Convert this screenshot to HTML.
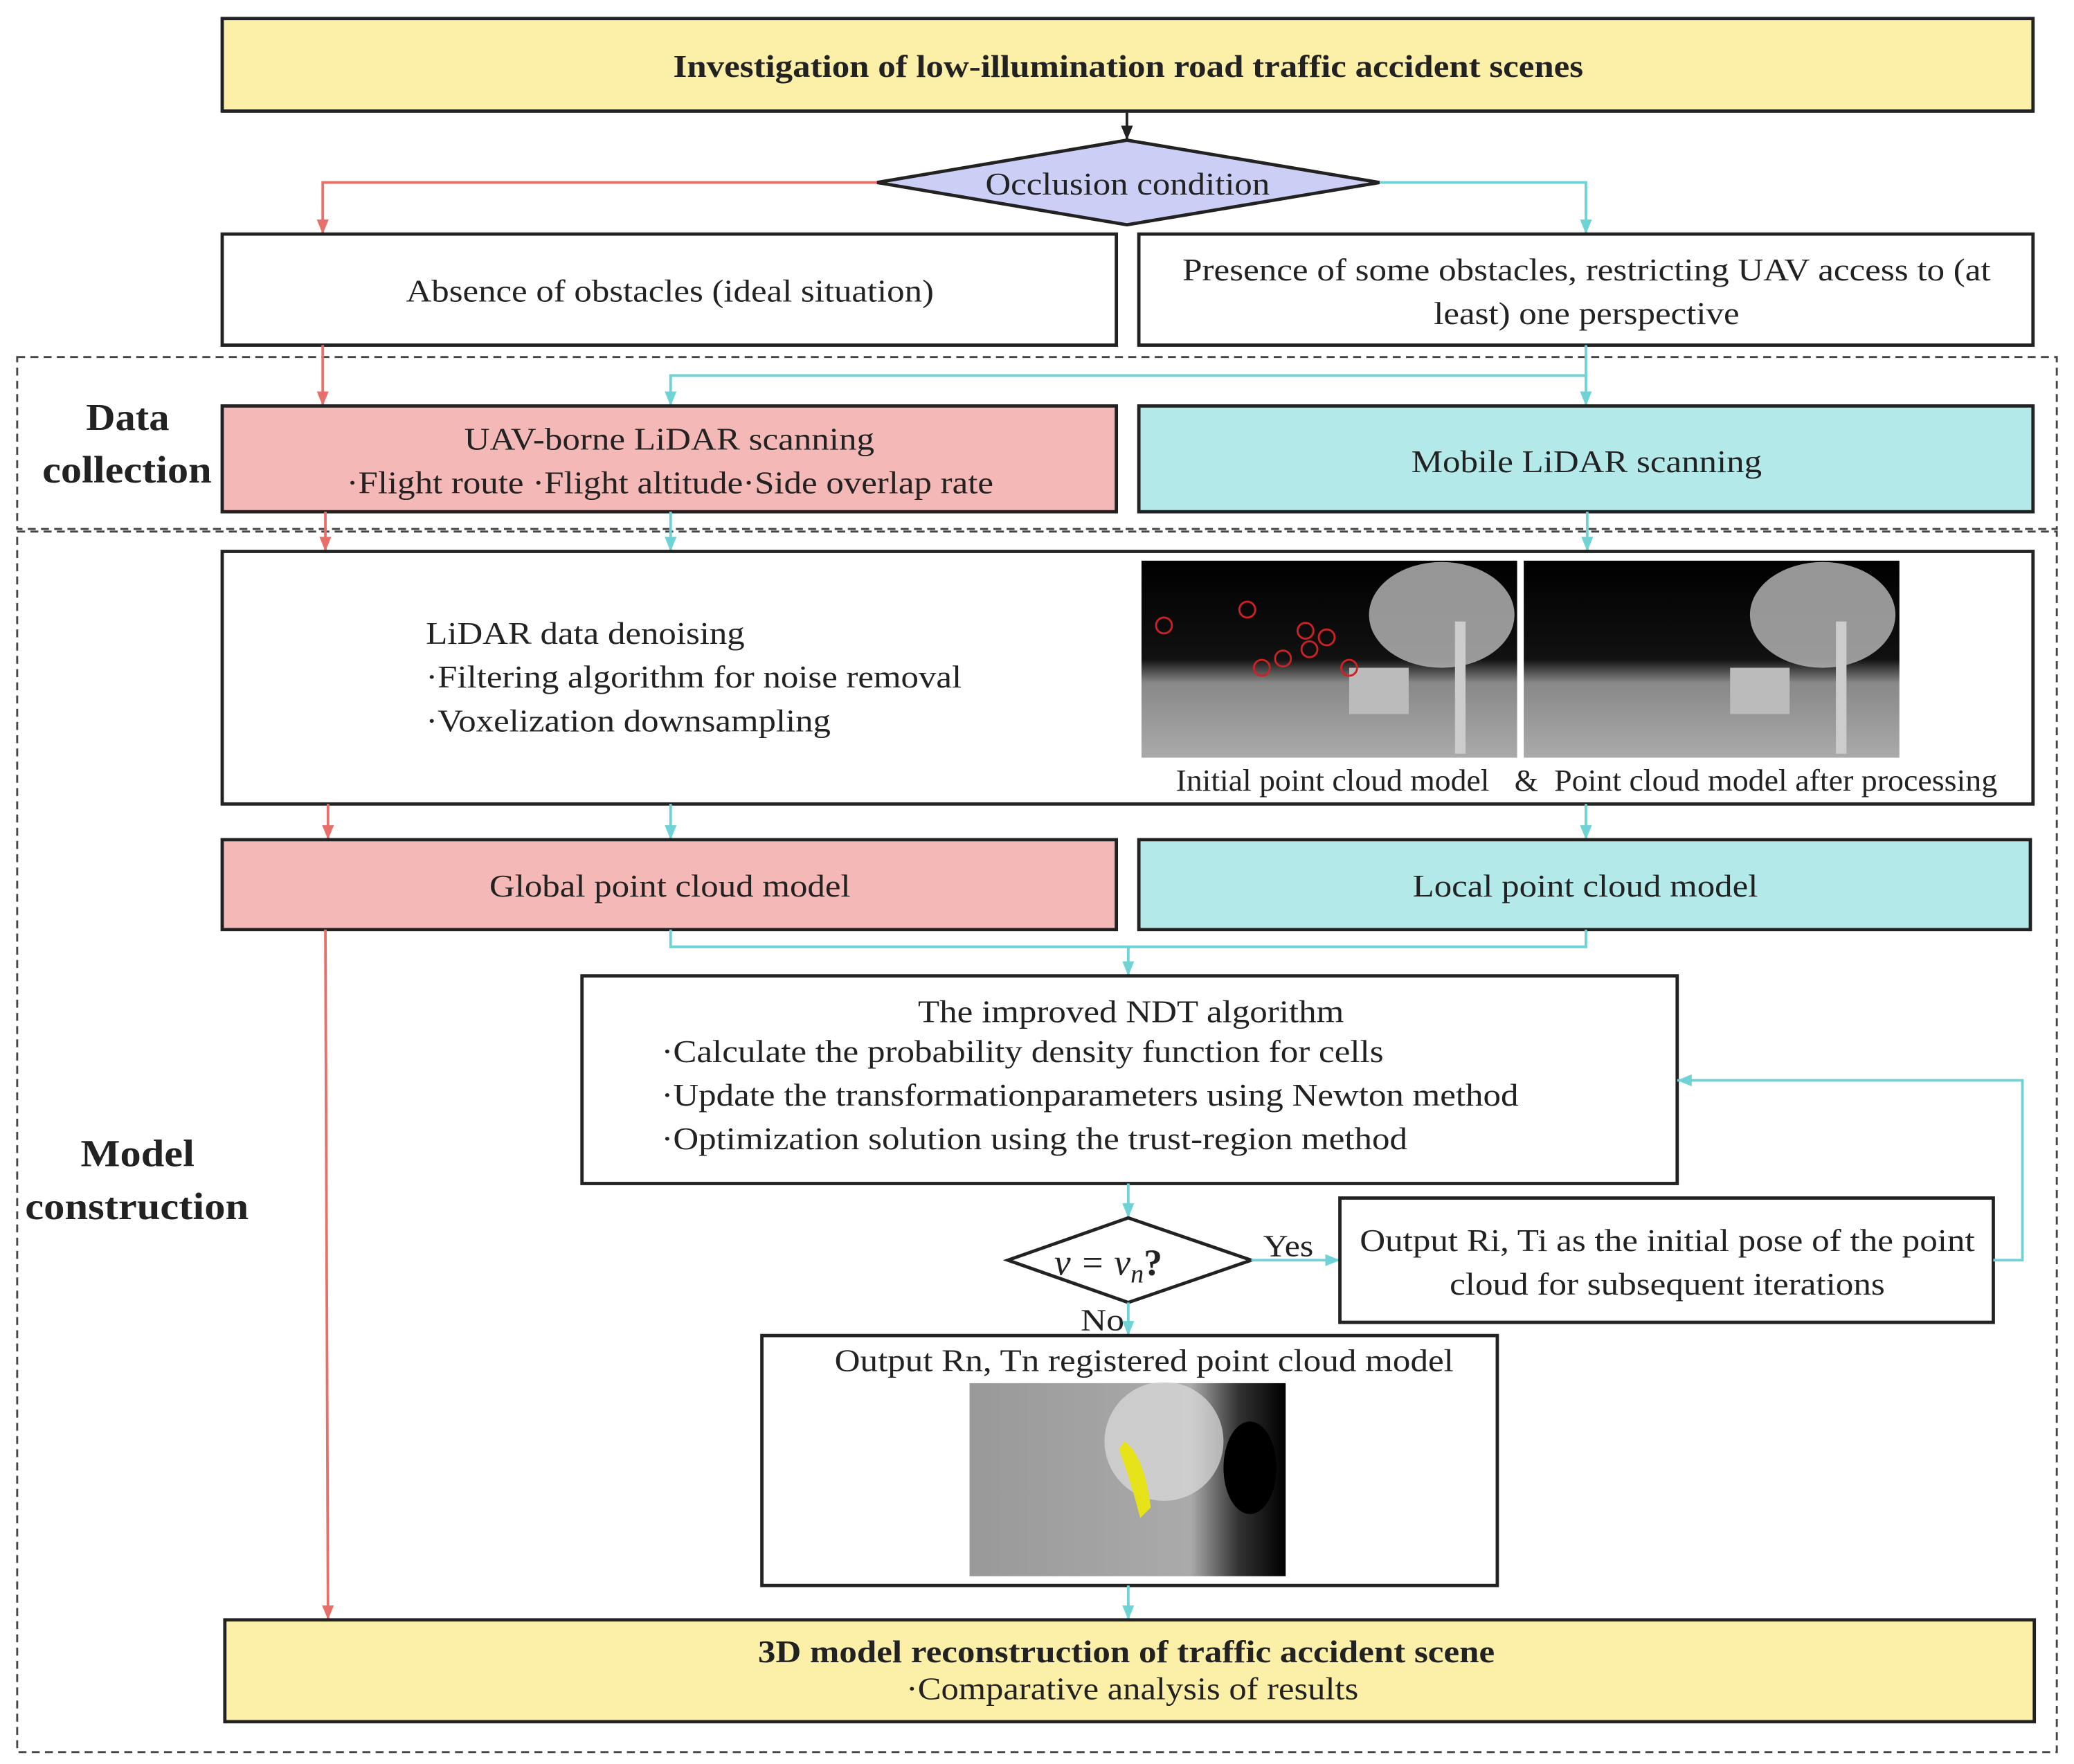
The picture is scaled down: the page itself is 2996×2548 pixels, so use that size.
<!DOCTYPE html>
<html><head><meta charset="utf-8"><style>
html,body{margin:0;padding:0;background:#fff;}
svg{display:block;}
text{font-family:"Liberation Serif",serif;fill:#222;}
</style></head><body>
<svg width="2996" height="2548" viewBox="0 0 1568 1334" preserveAspectRatio="none" xmlns="http://www.w3.org/2000/svg">
<defs>
<marker id="ar" markerWidth="12" markerHeight="12" refX="11" refY="5" orient="auto" markerUnits="userSpaceOnUse"><path d="M0,0.5 L11,5 L0,9.5 Z" fill="#e8706a"/></marker>
<marker id="ac" markerWidth="12" markerHeight="12" refX="11" refY="5" orient="auto" markerUnits="userSpaceOnUse"><path d="M0,0.5 L11,5 L0,9.5 Z" fill="#6fd3d6"/></marker>
<marker id="ab" markerWidth="12" markerHeight="12" refX="11" refY="5" orient="auto" markerUnits="userSpaceOnUse"><path d="M0,0.5 L11,5 L0,9.5 Z" fill="#222"/></marker>
<linearGradient id="gnd" x1="0" y1="0" x2="0" y2="1"><stop offset="0" stop-color="#000"/><stop offset="0.5" stop-color="#111"/><stop offset="0.62" stop-color="#888"/><stop offset="1" stop-color="#aaa"/></linearGradient>
<linearGradient id="gnd2" x1="0" y1="0" x2="1" y2="0"><stop offset="0" stop-color="#999"/><stop offset="0.7" stop-color="#aaa"/><stop offset="0.85" stop-color="#333"/><stop offset="1" stop-color="#000"/></linearGradient>
</defs>

<rect x="13" y="270" width="1542" height="130" fill="none" stroke="#444" stroke-width="1.5" stroke-dasharray="6,4"/>
<rect x="13" y="402" width="1542" height="923" fill="none" stroke="#444" stroke-width="1.5" stroke-dasharray="6,4"/>

<rect x="168" y="14" width="1369" height="70" fill="#fcefa8" stroke="#222" stroke-width="2.5"/>
<text x="509" y="58" font-size="24" font-weight="bold" textLength="688" lengthAdjust="spacingAndGlyphs">Investigation of low-illumination road traffic accident scenes</text>
<line x1="852" y1="84" x2="852" y2="106" stroke="#222" stroke-width="2" marker-end="url(#ab)"/>

<polygon points="663,138 852,106 1043,138 852,170" fill="#cccff5" stroke="#222" stroke-width="2.5"/>
<text x="745" y="147" font-size="24" textLength="215" lengthAdjust="spacingAndGlyphs">Occlusion condition</text>

<polyline points="663,138 244,138 244,177" fill="none" stroke="#e8706a" stroke-width="2" marker-end="url(#ar)"/>
<polyline points="1043,138 1199,138 1199,177" fill="none" stroke="#6fd3d6" stroke-width="2" marker-end="url(#ac)"/>

<rect x="168" y="177" width="676" height="84" fill="#fff" stroke="#222" stroke-width="2.5"/>
<text x="307" y="228" font-size="24" textLength="399" lengthAdjust="spacingAndGlyphs">Absence of obstacles (ideal situation)</text>
<rect x="861" y="177" width="676" height="84" fill="#fff" stroke="#222" stroke-width="2.5"/>
<text x="894" y="212" font-size="24" textLength="611" lengthAdjust="spacingAndGlyphs">Presence of some obstacles, restricting UAV access to (at</text>
<text x="1084" y="245" font-size="24" textLength="231" lengthAdjust="spacingAndGlyphs">least) one perspective</text>

<line x1="244" y1="261" x2="244" y2="307" stroke="#e8706a" stroke-width="2" marker-end="url(#ar)"/>
<line x1="1199" y1="261" x2="1199" y2="307" stroke="#6fd3d6" stroke-width="2" marker-end="url(#ac)"/>
<polyline points="1199,284 507,284 507,307" fill="none" stroke="#6fd3d6" stroke-width="2" marker-end="url(#ac)"/>

<text x="65" y="325" font-size="29" font-weight="bold" textLength="63" lengthAdjust="spacingAndGlyphs">Data</text>
<text x="32" y="365" font-size="29" font-weight="bold" textLength="128" lengthAdjust="spacingAndGlyphs">collection</text>

<rect x="168" y="307" width="676" height="80" fill="#f4b8b6" stroke="#222" stroke-width="2.5"/>
<text x="351" y="340" font-size="24" textLength="310" lengthAdjust="spacingAndGlyphs">UAV-borne LiDAR scanning</text>
<text x="262" y="373" font-size="24" textLength="489" lengthAdjust="spacingAndGlyphs">·Flight route ·Flight altitude·Side overlap rate</text>
<rect x="861" y="307" width="676" height="80" fill="#b4e9ea" stroke="#222" stroke-width="2.5"/>
<text x="1067" y="357" font-size="24" textLength="265" lengthAdjust="spacingAndGlyphs">Mobile LiDAR scanning</text>

<line x1="246" y1="387" x2="246" y2="417" stroke="#e8706a" stroke-width="2" marker-end="url(#ar)"/>
<line x1="507" y1="387" x2="507" y2="417" stroke="#6fd3d6" stroke-width="2" marker-end="url(#ac)"/>
<line x1="1200" y1="387" x2="1200" y2="417" stroke="#6fd3d6" stroke-width="2" marker-end="url(#ac)"/>

<text x="61" y="882" font-size="29" font-weight="bold" textLength="86" lengthAdjust="spacingAndGlyphs">Model</text>
<text x="19" y="922" font-size="29" font-weight="bold" textLength="169" lengthAdjust="spacingAndGlyphs">construction</text>

<rect x="168" y="417" width="1369" height="191" fill="#fff" stroke="#222" stroke-width="2.5"/>
<text x="322" y="487" font-size="24" textLength="241" lengthAdjust="spacingAndGlyphs">LiDAR data denoising</text>
<text x="322" y="520" font-size="24" textLength="405" lengthAdjust="spacingAndGlyphs">·Filtering algorithm for noise removal</text>
<text x="322" y="553" font-size="24" textLength="306" lengthAdjust="spacingAndGlyphs">·Voxelization downsampling</text>
<g>
<rect x="863" y="424" width="284" height="149" fill="url(#gnd)"/>
<ellipse cx="1090" cy="465" rx="55" ry="40" fill="#bbb" opacity="0.8"/>
<rect x="1100" y="470" width="8" height="100" fill="#ccc"/>
<rect x="1020" y="505" width="45" height="35" fill="#bbb"/>
<g fill="none" stroke="#c22" stroke-width="1.5">
<circle cx="880" cy="473" r="6"/><circle cx="943" cy="461" r="6"/><circle cx="987" cy="477" r="6"/><circle cx="1003" cy="482" r="6"/><circle cx="990" cy="491" r="6"/><circle cx="970" cy="498" r="6"/><circle cx="954" cy="505" r="6"/><circle cx="1020" cy="505" r="6"/>
</g>
<rect x="1152" y="424" width="284" height="149" fill="url(#gnd)"/>
<ellipse cx="1378" cy="465" rx="55" ry="40" fill="#bbb" opacity="0.8"/>
<rect x="1388" y="470" width="8" height="100" fill="#ccc"/>
<rect x="1308" y="505" width="45" height="35" fill="#bbb"/>
</g>
<text x="889" y="598" font-size="23" textLength="237" lengthAdjust="spacingAndGlyphs">Initial point cloud model</text>
<text x="1145" y="598" font-size="23">&amp;</text>
<text x="1175" y="598" font-size="23" textLength="335" lengthAdjust="spacingAndGlyphs">Point cloud model after processing</text>

<line x1="248" y1="608" x2="248" y2="635" stroke="#e8706a" stroke-width="2" marker-end="url(#ar)"/>
<line x1="507" y1="608" x2="507" y2="635" stroke="#6fd3d6" stroke-width="2" marker-end="url(#ac)"/>
<line x1="1199" y1="608" x2="1199" y2="635" stroke="#6fd3d6" stroke-width="2" marker-end="url(#ac)"/>

<rect x="168" y="635" width="676" height="68" fill="#f4b8b6" stroke="#222" stroke-width="2.5"/>
<text x="370" y="678" font-size="24" textLength="273" lengthAdjust="spacingAndGlyphs">Global point cloud model</text>
<rect x="861" y="635" width="674" height="68" fill="#b4e9ea" stroke="#222" stroke-width="2.5"/>
<text x="1068" y="678" font-size="24" textLength="261" lengthAdjust="spacingAndGlyphs">Local point cloud model</text>

<line x1="246" y1="703" x2="248" y2="1225" stroke="#e8706a" stroke-width="2" marker-end="url(#ar)"/>
<polyline points="507,703 507,716 1199,716 1199,703" fill="none" stroke="#6fd3d6" stroke-width="2"/>
<line x1="853" y1="716" x2="853" y2="738" stroke="#6fd3d6" stroke-width="2" marker-end="url(#ac)"/>

<rect x="440" y="738" width="828" height="157" fill="#fff" stroke="#222" stroke-width="2.5"/>
<text x="694" y="773" font-size="24" textLength="322" lengthAdjust="spacingAndGlyphs">The improved NDT algorithm</text>
<text x="500" y="803" font-size="24" textLength="546" lengthAdjust="spacingAndGlyphs">·Calculate the probability density function for cells</text>
<text x="500" y="836" font-size="24" textLength="648" lengthAdjust="spacingAndGlyphs">·Update the transformationparameters using Newton method</text>
<text x="500" y="869" font-size="24" textLength="564" lengthAdjust="spacingAndGlyphs">·Optimization solution using the trust-region method</text>

<line x1="853" y1="895" x2="853" y2="921" stroke="#6fd3d6" stroke-width="2" marker-end="url(#ac)"/>
<polygon points="762,953 853,921 946,953 853,985" fill="#fff" stroke="#222" stroke-width="2.5"/>
<text x="797" y="964" font-size="28" font-style="italic">v = v<tspan font-size="20" dy="6">n</tspan><tspan dy="-6" font-style="normal" font-weight="bold">?</tspan></text>
<text x="955" y="950" font-size="23" textLength="38" lengthAdjust="spacingAndGlyphs">Yes</text>
<line x1="946" y1="953" x2="1013" y2="953" stroke="#6fd3d6" stroke-width="2" marker-end="url(#ac)"/>
<rect x="1013" y="906" width="494" height="94" fill="#fff" stroke="#222" stroke-width="2.5"/>
<text x="1028" y="946" font-size="24" textLength="465" lengthAdjust="spacingAndGlyphs">Output Ri, Ti as the initial pose of the point</text>
<text x="1096" y="979" font-size="24" textLength="329" lengthAdjust="spacingAndGlyphs">cloud for subsequent iterations</text>
<polyline points="1507,953 1529,953 1529,817 1268,817" fill="none" stroke="#6fd3d6" stroke-width="2" marker-end="url(#ac)"/>

<text x="817" y="1006" font-size="23" textLength="33" lengthAdjust="spacingAndGlyphs">No</text>
<line x1="853" y1="985" x2="853" y2="1010" stroke="#6fd3d6" stroke-width="2" marker-end="url(#ac)"/>
<rect x="576" y="1010" width="556" height="189" fill="#fff" stroke="#222" stroke-width="2.5"/>
<text x="631" y="1037" font-size="24" textLength="468" lengthAdjust="spacingAndGlyphs">Output Rn, Tn registered point cloud model</text>
<rect x="733" y="1046" width="239" height="146" fill="url(#gnd2)"/>
<ellipse cx="880" cy="1090" rx="45" ry="45" fill="#ddd" opacity="0.7"/>
<ellipse cx="945" cy="1110" rx="20" ry="35" fill="#000"/>
<path d="M850,1090 Q865,1100 870,1140 L862,1148 Q855,1120 846,1096 Z" fill="#e6e21a"/>

<line x1="853" y1="1199" x2="853" y2="1225" stroke="#6fd3d6" stroke-width="2" marker-end="url(#ac)"/>
<rect x="170" y="1225" width="1368" height="77" fill="#fcefa8" stroke="#222" stroke-width="2.5"/>
<text x="573" y="1257" font-size="24" font-weight="bold" textLength="557" lengthAdjust="spacingAndGlyphs">3D model reconstruction of traffic accident scene</text>
<text x="685" y="1285" font-size="24" textLength="342" lengthAdjust="spacingAndGlyphs">·Comparative analysis of results</text>
</svg>
</body></html>
